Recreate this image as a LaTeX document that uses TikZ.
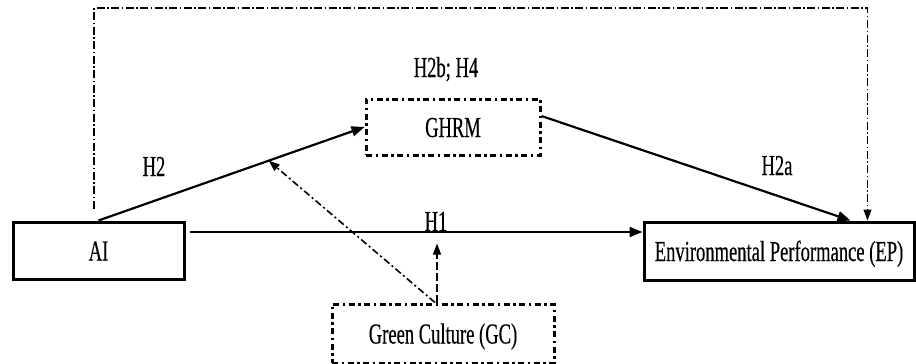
\documentclass[tikz,border=0pt]{standalone}
\usepackage{fontspec}
\setmainfont[FakeStretch=0.64,FakeBold=0.4]{Liberation Serif}
\usetikzlibrary{arrows.meta,calc}
\begin{document}
\begin{tikzpicture}[x=1pt,y=-1pt,
  font=\fontsize{29}{32}\selectfont,
  solidbox/.style={draw,line width=3pt,inner sep=0pt,text height=20pt,text depth=0pt},
  dotbox/.style={draw,line width=3pt,dash pattern=on 6pt off 3.5pt on 2.5pt off 3.5pt,inner sep=0pt,text height=20pt,text depth=0pt},
  bigarr/.style={-{Triangle[length=13pt,width=10pt]}},
  smallarr/.style={-{Triangle[length=11pt,width=8pt]}},
  lbl/.style={anchor=base,inner sep=0pt},
  dashdotline/.style={dash pattern=on 7pt off 3pt on 2pt off 3pt},
  dashline/.style={dash pattern=on 8pt off 3pt},
  loopline/.style={dash pattern=on 8pt off 2.5pt on 1.5pt off 2.5pt}
]
\useasboundingbox (0,0) rectangle (916,364);
\node[solidbox,minimum width=171pt,minimum height=57pt] (AI) at (98.5,250.5) {AI};
\node[solidbox,minimum width=270pt,minimum height=58pt] (EP) at (779,251) {Environmental Performance (EP)};
\node[dotbox,minimum width=174pt,minimum height=56pt] (GHRM) at (453,127) {GHRM};
\node[dotbox,minimum width=222pt,minimum height=59pt] (GC) at (443,333.5) {Green Culture (GC)};

\node[lbl] (h2) at (154,176) {H2};
\node[lbl] (h1) at (436,231) {H1};
\node[lbl] (h2a) at (777,175) {H2a};
\node[lbl] (h2b) at (446,77) {H2b; H4};

\draw[bigarr,line width=2.2pt] (AI.north) -- coordinate[pos=0.64] (mod) (GHRM.west);
\draw[bigarr,line width=1.6pt] ($(AI.east)+(4,-18.5)$) -- ($(EP.west)+(0,-19)$);
\draw[bigarr,line width=2.2pt] ($(GHRM.east)+(0,-11)$) -- ($(EP.north east)+(-65,0)$);
\draw[smallarr,line width=1.6pt,dashdotline] ($(GC.north)+(-8,0)$) -- (mod);
\coordinate (gctip) at ($(GC.north)+(-6,-59)$);
\draw[smallarr,line width=1.4pt,dashline] ($(GC.north)+(-6,0)$) -- (gctip);
\coordinate (ceil) at (480,8);
\coordinate (loopstart) at ($(AI.north)+(-4.5,-12)$);
\coordinate (loopend) at ($(EP.north east)+(-48,0)$);
\draw[smallarr,line width=1.2pt,loopline] (loopstart) -- (loopstart |- ceil) -| (loopend);
\end{tikzpicture}
\end{document}
